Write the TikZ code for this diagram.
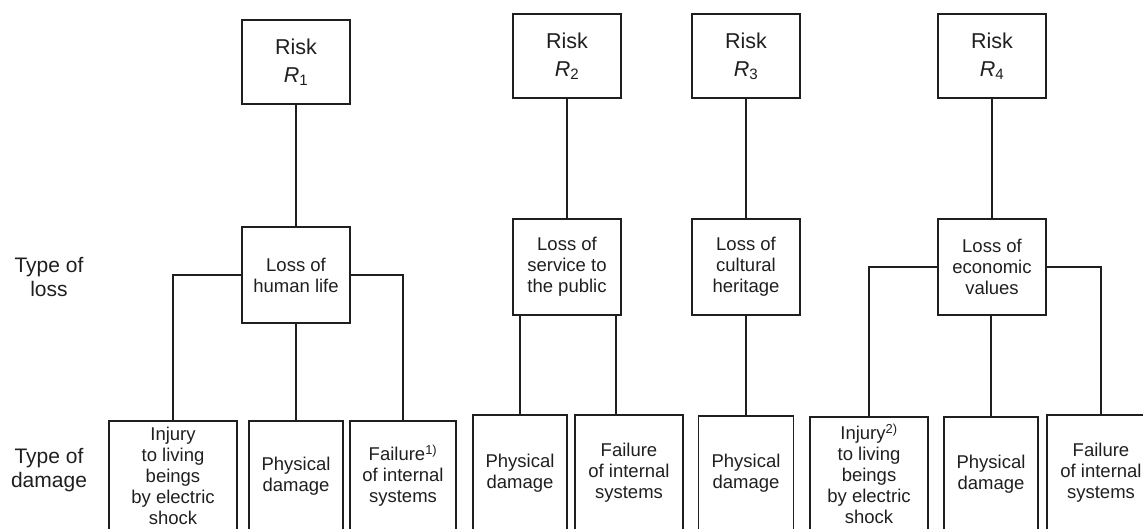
\documentclass[tikz,border=0pt]{standalone}
\usepackage{fontspec}
\setmainfont{Liberation Sans}
\usepackage{tikz}

\begin{document}
\begin{tikzpicture}[x=1pt,y=-1pt]
\tikzstyle{every node}+=[inner sep=0pt]
\tikzstyle{box}=[draw=black!88, line width=1.8pt, align=center, text=black!88, font=\fontsize{18.5}{21}\selectfont]
\tikzstyle{riskbox}=[box, minimum width=108, minimum height=84, font=\fontsize{21.5}{28}\selectfont]
\tikzstyle{lossbox}=[box, minimum width=108, minimum height=96]
\tikzstyle{side}=[align=center, text=black!88, font=\fontsize{21}{24}\selectfont]
\tikzstyle{wire}=[draw=black!88, line width=1.8pt]
\useasboundingbox (0,0) rectangle (1143,529);
\clip (0,0) rectangle (1143,529);
% side labels
\node [side] (typeloss) at (49,277) {Type of\\loss};
\node [side] (typedamage) at (49,470) {Type of\\damage};
% risk R1
\node [riskbox] (risk1) at (296,62) {Risk\\\textit{R}\textsubscript{1}};
\node [lossbox] (loss1) at (296,275) {Loss of\\human life};
\node [box, minimum width=128, minimum height=110] (inj1) at (173,476) {Injury\\to living\\beings\\by electric\\shock};
\node [box, minimum width=94, minimum height=110] (phys1) at (296,476) {Physical\\damage};
\node [box, minimum width=106, minimum height=110] (fail1) at (403,476) {Failure\textsuperscript{1)}\\of internal\\systems};
\draw [wire] (risk1) -- (loss1);
\draw [wire] (loss1.west) -| (inj1.north);
\draw [wire] (loss1.south -| phys1.north) -- (phys1.north);
\draw [wire] (loss1.east) -| (fail1.north);
% risk R2
\node [riskbox] (risk2) at (567,56) {Risk\\\textit{R}\textsubscript{2}};
\node [lossbox] (loss2) at (567,267) {Loss of\\service to\\the public};
\node [box, minimum width=94, minimum height=116] (phys2) at (520,473) {Physical\\damage};
\node [box, minimum width=108, minimum height=116] (fail2) at (629,473) {Failure\\of internal\\systems};
\draw [wire] (risk2) -- (loss2);
\draw [wire] (loss2.south -| phys2.north) -- (phys2.north);
\draw [wire] ([xshift=-6]loss2.south east) -- ([xshift=-6]loss2.south east |- fail2.north);
% risk R3
\node [riskbox] (risk3) at (746,56) {Risk\\\textit{R}\textsubscript{3}};
\node [lossbox] (loss3) at (746,267) {Loss of\\cultural\\heritage};
\node [box, minimum width=95, minimum height=115] (phys3) at (746,473.5) {Physical\\damage};
\draw [wire] (risk3) -- (loss3);
\draw [wire] (loss3) -- (phys3);
% risk R4
\node [riskbox] (risk4) at (992,56) {Risk\\\textit{R}\textsubscript{4}};
\node [lossbox] (loss4) at (992,267) {Loss of\\economic\\values};
\node [box, minimum width=118, minimum height=114] (inj4) at (869,474) {Injury\textsuperscript{2)}\\to living\\beings\\by electric\\shock};
\node [box, minimum width=94, minimum height=114] (phys4) at (991,474) {Physical\\damage};
\node [box, minimum width=108, minimum height=116] (fail4) at (1101,473) {Failure\\of internal\\systems};
\draw [wire] (risk4) -- (loss4);
\draw [wire] (loss4.west) -| (inj4.north);
\draw [wire] (loss4.south -| phys4.north) -- (phys4.north);
\draw [wire] (loss4.east) -| (fail4.north);
\end{tikzpicture}
\end{document}
